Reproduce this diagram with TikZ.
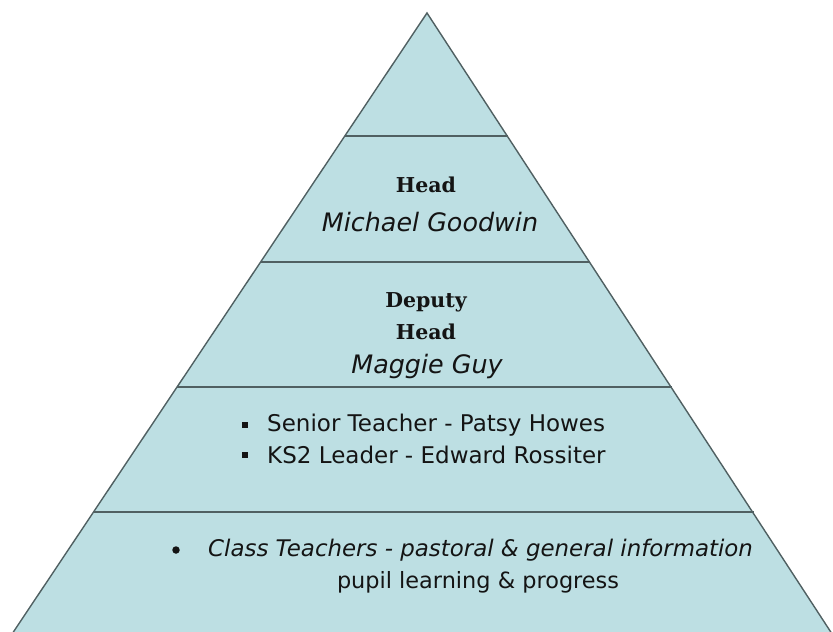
\documentclass[tikz,border=0pt]{standalone}
\usepackage{fontspec}
\setmainfont{DejaVu Sans}
\newfontfamily\titlefont{DejaVu Serif}
\definecolor{pyrfill}{RGB}{189,223,227}
\definecolor{pyrline}{RGB}{80,96,98}
\definecolor{inktext}{RGB}{20,20,20}
\begin{document}
\begin{tikzpicture}[x=1pt,y=-1pt,
  layer/.style={draw=pyrline,line width=1.4pt},
  roletext/.style={font=\titlefont\bfseries\fontsize{20.5}{20.5}\selectfont,inner sep=0pt,text=inktext},
  persontext/.style={font=\fontsize{25.4}{25.4}\selectfont\itshape,inner sep=0pt,text=inktext},
  itemtext/.style={font=\fontsize{23}{23}\selectfont,inner sep=0pt,text=inktext},
  sqbullet/.style={fill=inktext,minimum size=6.5pt,inner sep=0pt},
  dotbullet/.style={circle,fill=inktext,minimum size=7.5pt,inner sep=0pt}]
\useasboundingbox (0,0) rectangle (833,632);
\begin{scope}
\clip (0,0) rectangle (833,632);
\coordinate (apex) at (427,13);
\coordinate (bl) at (8,640);
\coordinate (br) at (836,640);
\fill[pyrfill] (apex) -- (bl) -- (br) -- cycle;
\coordinate (l1) at (345,136); \coordinate (r1) at (508,136);
\coordinate (l2) at (261,262); \coordinate (r2) at (590,262);
\coordinate (l3) at (177,387); \coordinate (r3) at (672,387);
\coordinate (l4) at (94,512);  \coordinate (r4) at (754,512);
\draw[layer] (l1) -- (r1);
\draw[layer] (l2) -- (r2);
\draw[layer] (l3) -- (r3);
\draw[layer] (l4) -- (r4);
\draw[layer,line join=miter] (bl) -- (apex) -- (br);
\end{scope}
\node[roletext] (headt) at (426,185) {Head};
\node[persontext] (headn) at (430,222) {Michael Goodwin};
\node[roletext] (dept1) at (426,302) {Deputy};
\node[roletext] (dept2) at (426,332) {Head};
\node[persontext] (depn) at (427,366) {Maggie Guy};
\node[sqbullet] (b1) at (245,425) {};
\node[itemtext,anchor=west] (st) at (267,425) {Senior Teacher - Patsy Howes};
\node[sqbullet] (b2) at (245,455) {};
\node[itemtext,anchor=west] (ks) at (267,455) {KS2 Leader - Edward Rossiter};
\node[dotbullet] (b3) at (176,550) {};
\node[itemtext,anchor=west,font=\fontsize{22.9}{22.9}\selectfont\itshape] (ct) at (208,550) {Class Teachers - pastoral \& general information};
\node[itemtext,font=\fontsize{22.4}{22.4}\selectfont] (pl) at (478,582) {pupil learning \& progress};
\end{tikzpicture}
\end{document}
